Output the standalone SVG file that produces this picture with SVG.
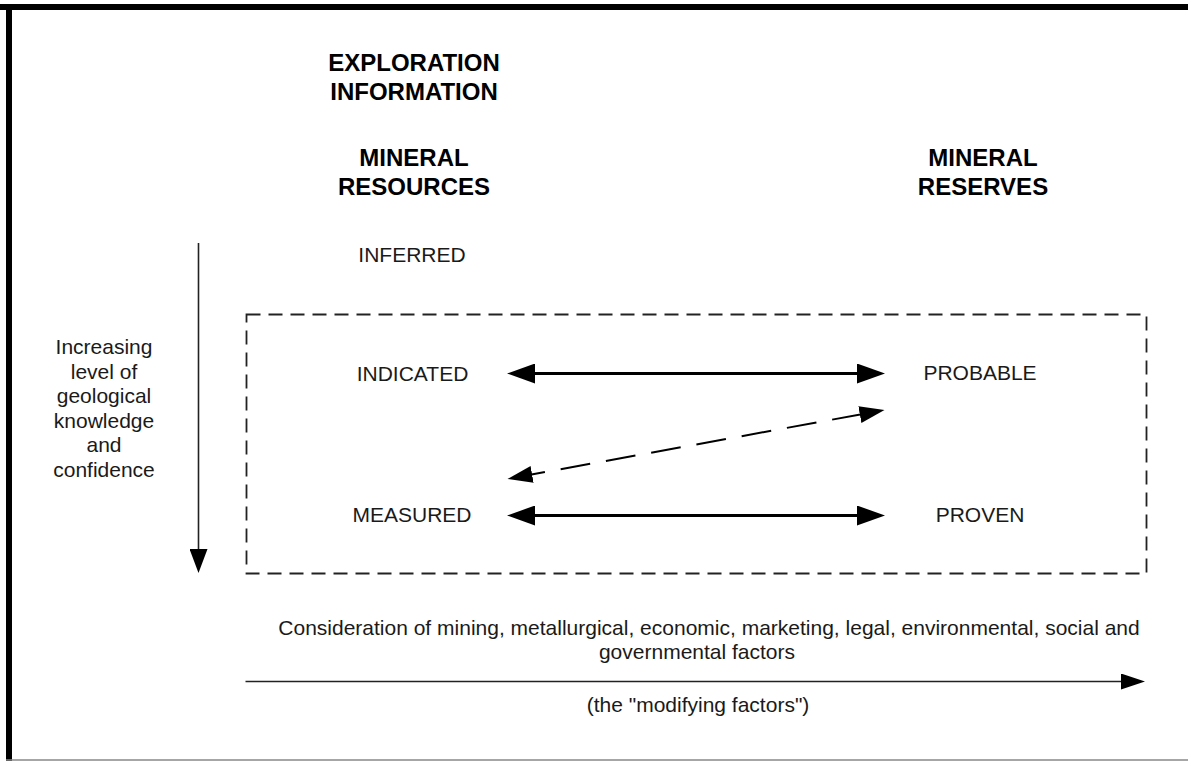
<svg xmlns="http://www.w3.org/2000/svg" width="1188" height="761" viewBox="0 0 1188 761">
<style>
.t{font-family:"Liberation Sans",Arial,sans-serif;fill:#1a1a1a;text-anchor:middle}
.b{font-weight:bold;font-size:24px;fill:#000}
.r{font-size:21px}
.frame{fill:#000}
.box{fill:none;stroke:#222;stroke-width:1.8;stroke-dasharray:14 8}
.solid{stroke:#000;stroke-width:3.2;fill:none}
.dash{stroke:#000;stroke-width:2;fill:none;stroke-dasharray:30 16}
.thin{stroke:#222;stroke-width:1.6;fill:none}
</style>
<defs>
<marker id="hBig" markerUnits="userSpaceOnUse" markerWidth="28" markerHeight="20" refX="20" refY="10" orient="auto-start-reverse"><path d="M0,0 L28,10 L0,20 Z" fill="#000"/></marker>
<marker id="hMid" markerUnits="userSpaceOnUse" markerWidth="25" markerHeight="17" refX="17" refY="8.5" orient="auto-start-reverse"><path d="M0,0 L25,8.5 L0,17 Z" fill="#000"/></marker>
<marker id="hSmall" markerUnits="userSpaceOnUse" markerWidth="24" markerHeight="18" refX="16" refY="9" orient="auto"><path d="M0,0 L24,9 L0,18 Z" fill="#000"/></marker>
<marker id="hBottom" markerUnits="userSpaceOnUse" markerWidth="24" markerHeight="16" refX="16" refY="8" orient="auto"><path d="M0,0 L24,8 L0,16 Z" fill="#000"/></marker>
</defs>
<rect width="1188" height="761" fill="#fff"/>
<g id="frame">
<rect class="frame" x="0" y="4" width="1188" height="6"/>
<rect class="frame" x="6" y="4" width="6" height="757"/>
<line x1="6" y1="760" x2="1188" y2="760" stroke="#888" stroke-width="1.5"/>
</g>
<g id="exploration"><text class="t b" x="414" y="71">EXPLORATION</text><text class="t b" x="414" y="100">INFORMATION</text></g>
<g id="resources"><text class="t b" x="414" y="166">MINERAL</text><text class="t b" x="414" y="195">RESOURCES</text></g>
<g id="reserves"><text class="t b" x="983" y="166">MINERAL</text><text class="t b" x="983" y="195">RESERVES</text></g>
<g id="inferred"><text class="t r" x="412" y="262">INFERRED</text></g>
<g id="confidence-box"><rect class="box" x="246.5" y="314.5" width="900" height="259"/></g>
<g id="indicated"><text class="t r" x="412.5" y="381">INDICATED</text></g>
<g id="measured"><text class="t r" x="412" y="522">MEASURED</text></g>
<g id="probable"><text class="t r" x="980" y="380">PROBABLE</text></g>
<g id="proven"><text class="t r" x="980" y="522">PROVEN</text></g>
<g id="knowledge">
<text class="t r" x="104" y="354">Increasing</text>
<text class="t r" x="104" y="378.5">level of</text>
<text class="t r" x="104" y="403">geological</text>
<text class="t r" x="104" y="427.5">knowledge</text>
<text class="t r" x="104" y="452">and</text>
<text class="t r" x="104" y="477">confidence</text>
</g>
<g id="modifying">
<text class="t r" x="709" y="635">Consideration of mining, metallurgical, economic, marketing, legal, environmental, social and</text>
<text class="t r" x="697" y="659">governmental factors</text>
<text class="t r" x="698" y="712">(the "modifying factors")</text>
</g>
<g id="connectors">
<line class="solid" x1="515" y1="373.5" x2="877" y2="373.5" marker-start="url(#hBig)" marker-end="url(#hBig)"/>
<line class="solid" x1="515" y1="515.5" x2="877" y2="515.5" marker-start="url(#hBig)" marker-end="url(#hBig)"/>
<line class="dash" x1="515.4" y1="477.5" x2="876.6" y2="411.5" marker-start="url(#hMid)" marker-end="url(#hMid)"/>
<line class="thin" x1="198.5" y1="243" x2="198.5" y2="565" marker-end="url(#hSmall)"/>
<line class="thin" x1="245.5" y1="681.5" x2="1137" y2="681.5" stroke-width="2" marker-end="url(#hBottom)"/>
</g>
</svg>
